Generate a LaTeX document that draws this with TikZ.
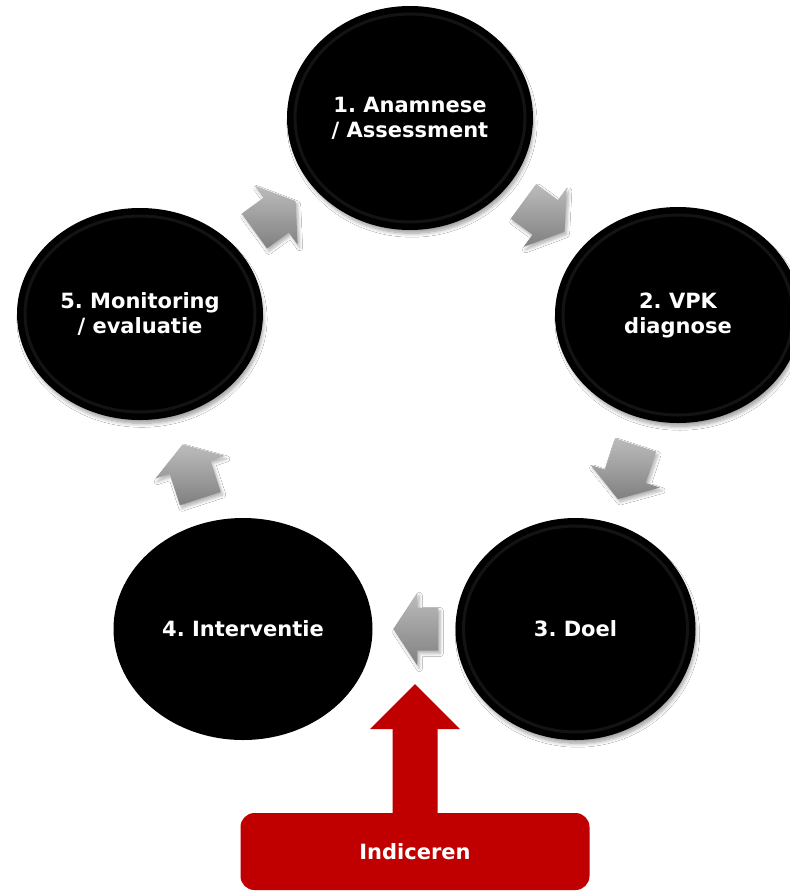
\documentclass[tikz,border=0pt]{standalone}
\usepackage{fontspec}
\setmainfont{DejaVu Sans}
\usetikzlibrary{shapes.geometric,calc,shadows.blur}
\definecolor{indred}{RGB}{192,0,0}
\definecolor{arrowlight}{RGB}{188,188,188}
\definecolor{arrowdark}{RGB}{128,128,128}
\tikzset{
  bubble/.style={ellipse, fill=black, text=white, inner sep=0pt, align=center,
    font=\frenchspacing\bfseries\fontsize{21}{25}\selectfont},
  bubshadow/.style={blur shadow={shadow xshift=2pt, shadow yshift=-5pt, shadow scale=0.985,
    shadow blur steps=8, shadow opacity=40, shadow blur radius=4pt}},
  bevel/.style={line width=3pt, draw=black!78!white, opacity=0.35},
  grayarrow/.style={top color=arrowlight, bottom color=arrowdark, draw=none,
    blur shadow={shadow xshift=2pt, shadow yshift=-3pt, shadow opacity=30,
    shadow blur steps=5, shadow blur radius=3pt}},
  redarrow/.style={fill=indred},
  indbox/.style={rectangle, rounded corners=14pt, fill=indred, text=white,
    minimum width=349, minimum height=77, inner sep=0pt,
    font=\frenchspacing\bfseries\fontsize{21}{25}\selectfont},
}
% bubble with bevel ring and shadow
\newcommand\cyclebubble[6]{%
  \node[bubble, bubshadow, minimum width=2*#4, minimum height=2*#5] (#1) at (#2,#3) {#6};
  \draw[bevel] (#1.center) ellipse [x radius={#4*1pt-8pt}, y radius={#5*1pt-8pt}];}
% block arrow between two bubbles: from, to, length, position fraction
\newcommand\cyclearrow[4]{%
  \pgfmathanglebetweenpoints{\pgfpointanchor{#1}{center}}{\pgfpointanchor{#2}{center}}%
  \edef\arrang{\pgfmathresult}%
  \begin{scope}[shift={($(#1)!#4!(#2)$)}, rotate=\arrang]
    \path[grayarrow] (-#3/2,-21.5) -- (#3/2-24,-21.5) -- (#3/2-24,-36.5) -- (#3/2,0)
      -- (#3/2-24,36.5) -- (#3/2-24,21.5) -- (-#3/2,21.5) -- cycle;
  \end{scope}}
\begin{document}
\begin{tikzpicture}[x=1pt,y=-1pt]
\useasboundingbox (0,0) rectangle (790,892);
\fill[white] (0,0) rectangle (790,892);

\cyclebubble{c1}{410}{118}{123}{112}{1. Anamnese\\/ Assessment}
\cyclebubble{c2}{678}{315}{123}{108}{2. VPK\\diagnose}
\cyclebubble{c3}{575.5}{629}{120}{111}{3. Doel}
\node[bubble, minimum width=259, minimum height=222] (c4) at (243,629) {4. Interventie};
\cyclebubble{c5}{140}{314}{123}{106}{5. Monitoring\\/ evaluatie}

\cyclearrow{c1}{c2}{51}{0.5}
\cyclearrow{c2}{c3}{57}{0.5}
\cyclearrow{c3}{c4}{45}{0.48}
\cyclearrow{c4}{c5}{57}{0.5}
\cyclearrow{c5}{c1}{51}{0.5}

\node[indbox] (ind) at (415,851.5) {Indiceren};
\coordinate (redtip) at (415,684);
\fill[redarrow] ($(ind.north)+(-22.5,1)$) -- ($(redtip)+(-22.5,45)$) -- ($(redtip)+(-45,45)$)
  -- (redtip) -- ($(redtip)+(45,45)$) -- ($(redtip)+(22.5,45)$) -- ($(ind.north)+(22.5,1)$) -- cycle;
\end{tikzpicture}
\end{document}
